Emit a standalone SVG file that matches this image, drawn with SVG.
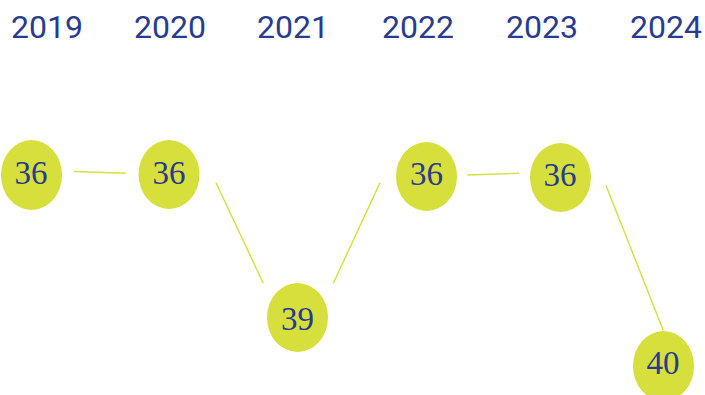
<svg xmlns="http://www.w3.org/2000/svg" width="705" height="395" viewBox="0 0 705 395">
<style>
.year{font-family:Roboto,"Liberation Sans",sans-serif;font-size:32px;fill:#283b8e;text-anchor:middle}
.node ellipse{fill:#d6df3c}
.node text{font-family:"Liberation Serif","DejaVu Serif",serif;font-size:33px;fill:#283b8e;text-anchor:middle;font-variant-numeric:oldstyle-nums}
.conn line{stroke:#d6df3c;stroke-width:1.4;fill:none}
</style>
<rect width="705" height="395" fill="#ffffff"/>
<g id="years">
<text class="year" x="47" y="37.5">2019</text>
<text class="year" x="170" y="37.5">2020</text>
<text class="year" x="293" y="37.5">2021</text>
<text class="year" x="418" y="37.5">2022</text>
<text class="year" x="542" y="37.5">2023</text>
<text class="year" x="666" y="37.5">2024</text>
</g>
<g class="conn" id="connectors">
<line x1="74" y1="171.5" x2="126" y2="173.3"/>
<line x1="216" y1="182.7" x2="263.3" y2="283.3"/>
<line x1="333.3" y1="283.3" x2="380" y2="182.7"/>
<line x1="467.3" y1="175" x2="519.3" y2="173.3"/>
<line x1="606" y1="185.5" x2="663.3" y2="330.5"/>
</g>
<g class="node" id="n2019"><ellipse cx="31.5" cy="175" rx="30.5" ry="35"/><text x="31" y="184">36</text></g>
<g class="node" id="n2020"><ellipse cx="169" cy="174.5" rx="30.5" ry="34.5"/><text x="169" y="183.5">36</text></g>
<g class="node" id="n2021"><ellipse cx="297.5" cy="317.5" rx="30.5" ry="34.5"/><text x="297.5" y="330">39</text></g>
<g class="node" id="n2022"><ellipse cx="426.5" cy="176.5" rx="30.5" ry="34.5"/><text x="426.5" y="185">36</text></g>
<g class="node" id="n2023"><ellipse cx="560.5" cy="177.5" rx="30.5" ry="34.5"/><text x="560" y="186">36</text></g>
<g class="node" id="n2024"><ellipse cx="663.5" cy="366" rx="30.5" ry="35"/><text x="663" y="374">40</text></g>
</svg>
